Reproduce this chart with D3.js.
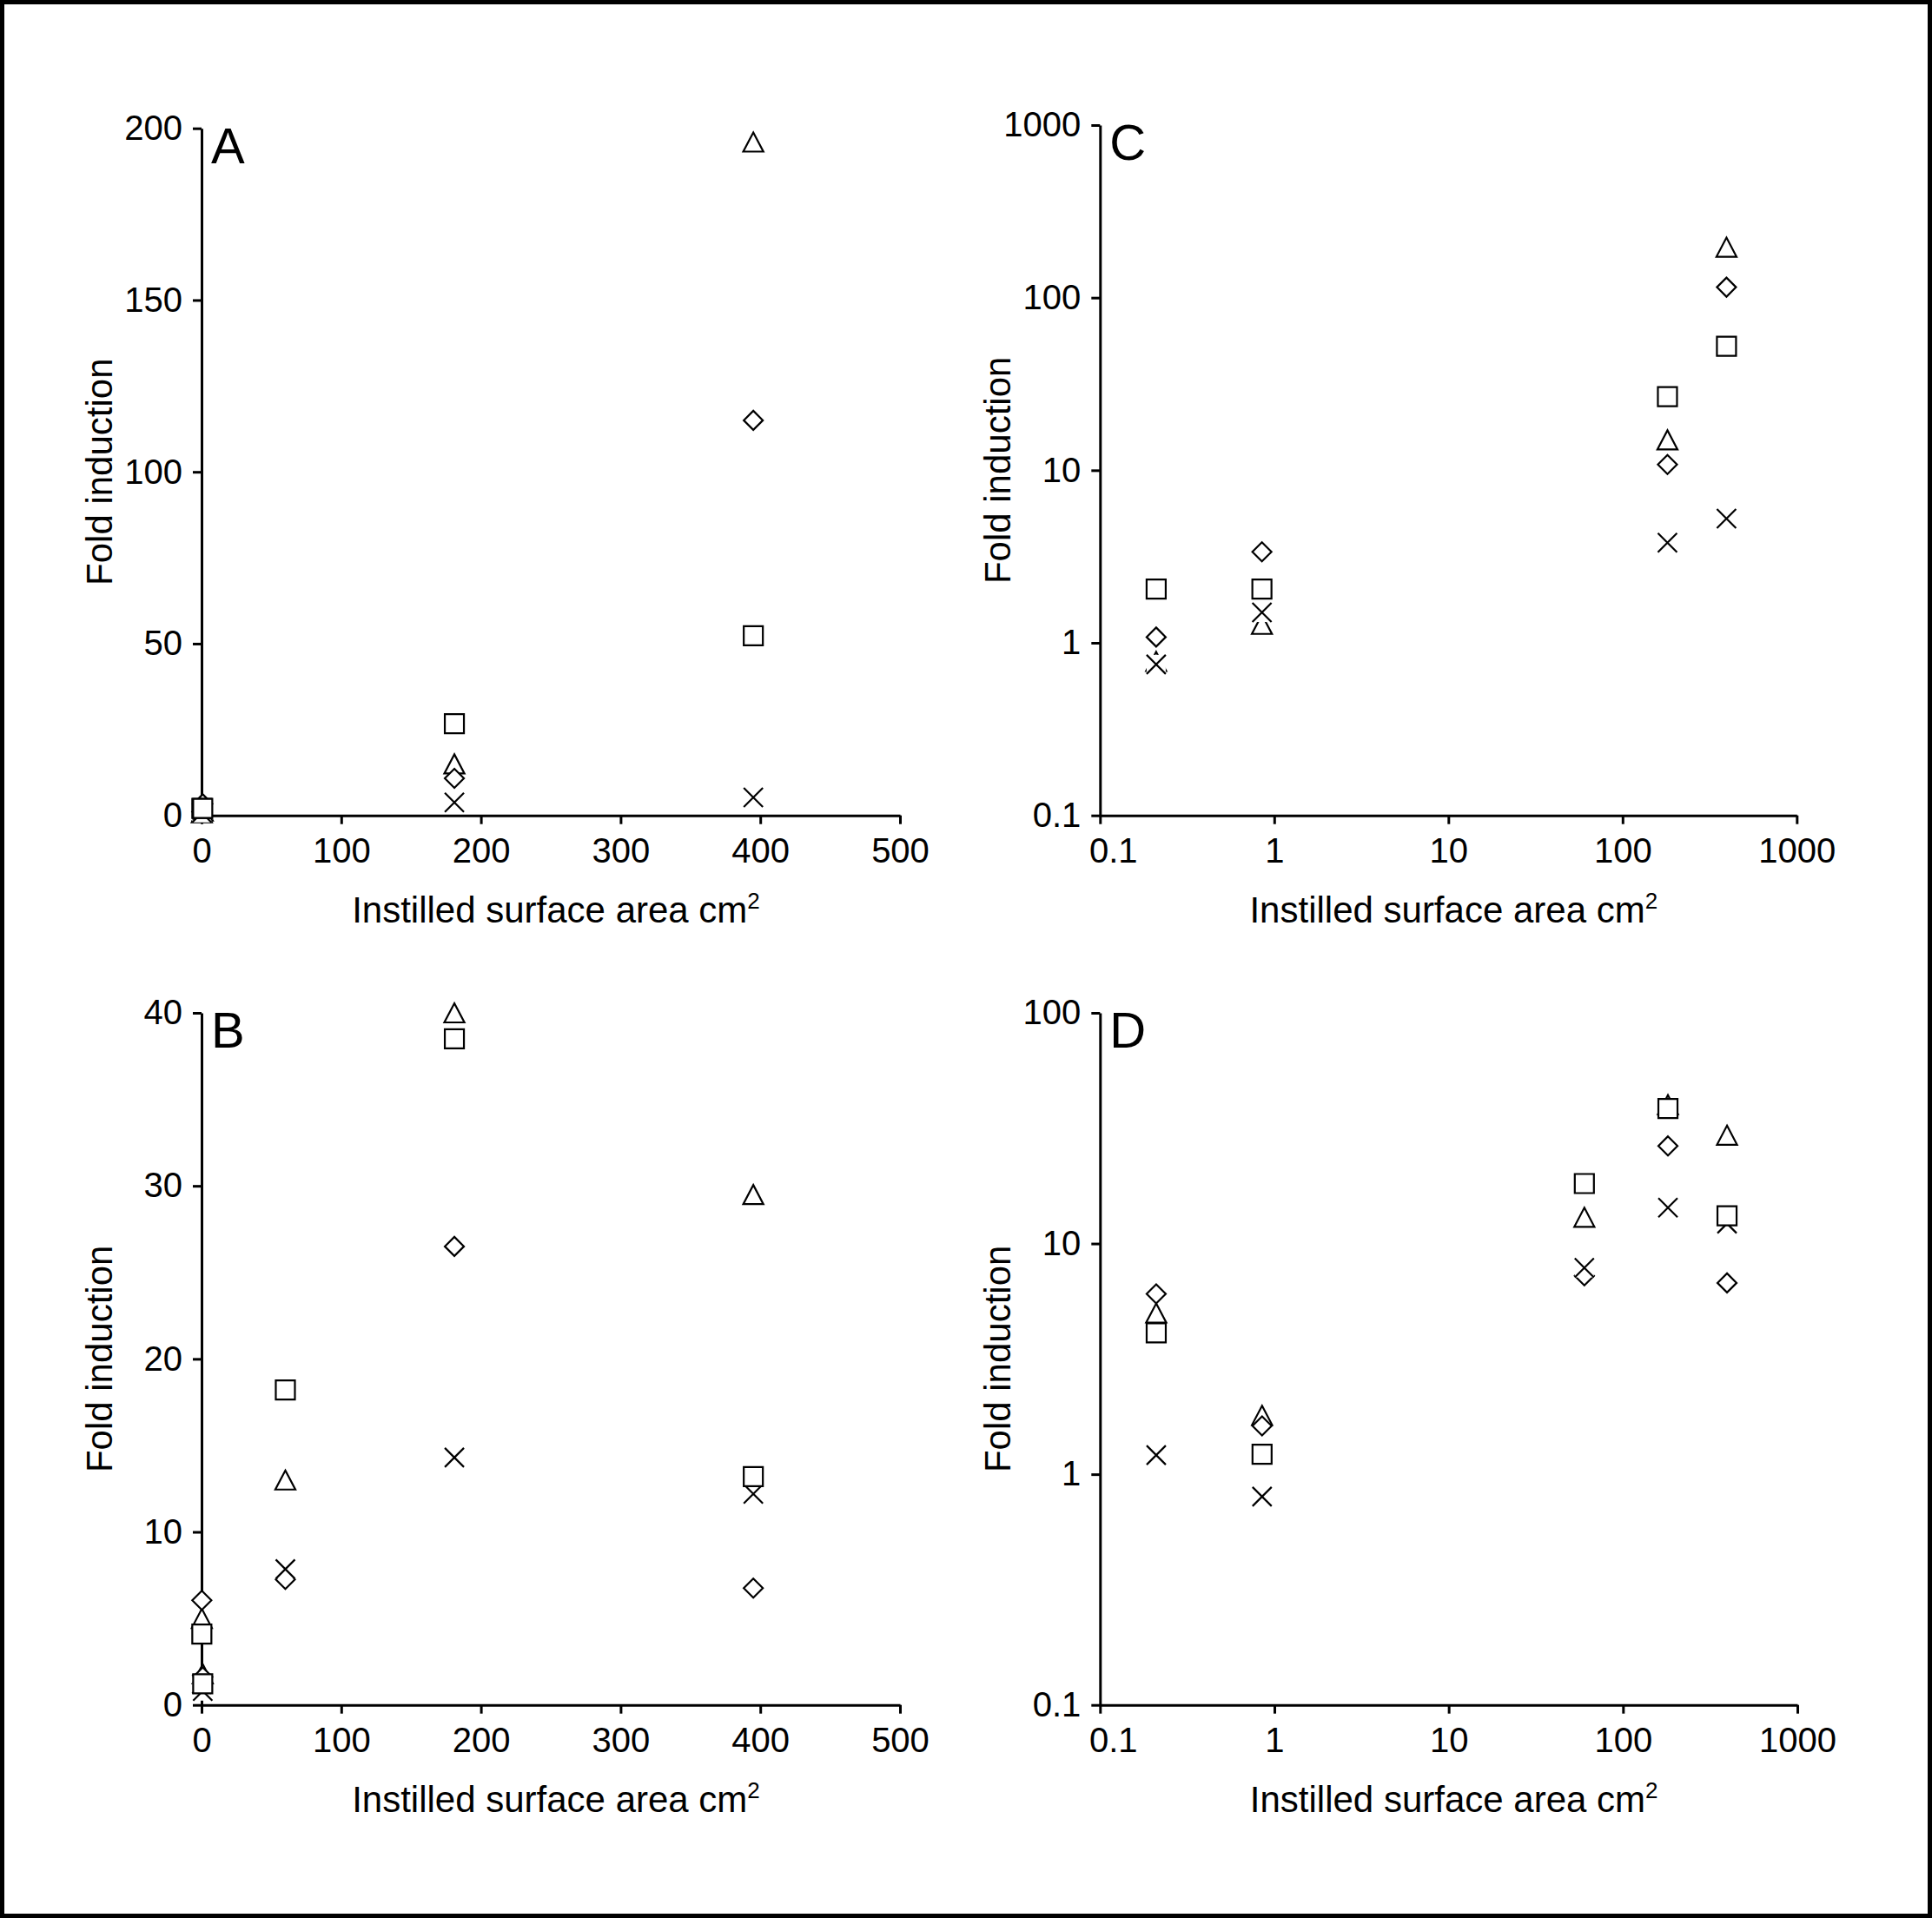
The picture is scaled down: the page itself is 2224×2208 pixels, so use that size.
<!DOCTYPE html>
<html>
<head>
<meta charset="utf-8">
<script src="https://cdn.jsdelivr.net/npm/d3@7"></script>
<style>
  html, body { margin: 0; padding: 0; background: #fff; }
  svg { display: block; }
</style>
</head>
<body>
<svg id="chart" width="2224" height="2208"></svg>
<script>
// ---- Data ----
// Panels A (linear) and C (log): same data set
const area1     = [0.21, 0.85, 181, 395];
const square1   = [2.05, 2.05, 26.7, 52.3];
const triangle1 = [0.78, 1.28, 15.0, 196];
const diamond1  = [1.08, 3.37, 10.8, 115];
const cross1    = [0.75, 1.5, 3.8, 5.25];

// Panels B (linear) and D (log): same data set
const area2     = [0.21, 0.85, 60, 181, 395];
const square2   = [4.1, 1.22, 18.2, 38.5, 13.2];
const triangle2 = [5.0, 1.8, 13.0, 40.0, 29.5];
const diamond2  = [6.05, 1.62, 7.25, 26.5, 6.75];
const cross2    = [1.21, 0.8, 7.85, 14.3, 12.2];

// Tick values
const linXTicks  = [0, 100, 200, 300, 400, 500];
const aYTicks    = [0, 50, 100, 150, 200];
const bYTicks    = [0, 10, 20, 30, 40];
const logXTicks  = [0.1, 1, 10, 100, 1000];
const cYTicks    = [0.1, 1, 10, 100, 1000];
const dYTicks    = [0.1, 1, 10, 100];

const xTitle = "Instilled surface area cm";
const xTitleSup = "2";
const yTitle = "Fold induction";

// ---- Drawing ----
const FONT = "'Liberation Sans', Arial, Helvetica, sans-serif";
const svg = d3.select("#chart");

svg.append("rect")
  .attr("x", 2.5).attr("y", 2.5)
  .attr("width", 2224 - 5).attr("height", 2208 - 5)
  .attr("fill", "#fff").attr("stroke", "#000").attr("stroke-width", 5);

const H = 11;
const symSquare = { draw(ctx, s) { ctx.rect(-s / 2, -s / 2, s, s); } };
const symTriangle = { draw(ctx, s) { const h = s / 2; ctx.moveTo(0, -h); ctx.lineTo(h * 1.05, h); ctx.lineTo(-h * 1.05, h); ctx.closePath(); } };
const symDiamond = { draw(ctx, s) { const h = s / 2; ctx.moveTo(0, -h); ctx.lineTo(h, 0); ctx.lineTo(0, h); ctx.lineTo(-h, 0); ctx.closePath(); } };
const symCross = { draw(ctx, s) { const h = s / 2; ctx.moveTo(-h, -h); ctx.lineTo(h, h); ctx.moveTo(h, -h); ctx.lineTo(-h, h); } };
const symBox = { draw(ctx, s) { ctx.rect(-s / 2, -s / 2, s, s); } };

function drawPanel(p) {
  const g = svg.append("g");
  const x = (p.log ? d3.scaleLog() : d3.scaleLinear()).domain(p.xDomain).range([p.left, p.right]);
  const y = (p.log ? d3.scaleLog() : d3.scaleLinear()).domain(p.yDomain).range([p.bottom, p.top]);
  const fmt = d => String(d);

  const gx = g.append("g").attr("transform", `translate(0,${p.bottom})`)
    .call(d3.axisBottom(x).tickValues(p.xTicks).tickFormat(fmt).tickSize(10).tickSizeOuter(0).tickPadding(16));
  const gy = g.append("g").attr("transform", `translate(${p.left},0)`)
    .call(d3.axisLeft(y).tickValues(p.yTicks).tickFormat(fmt).tickSize(10).tickSizeOuter(0).tickPadding(12));
  [gx, gy].forEach(a => {
    a.attr("font-size", 40).attr("font-family", FONT);
    a.selectAll("path, line").attr("stroke", "#000").attr("stroke-width", 3);
    a.selectAll("text").attr("fill", "#000");
  });
  // first x label on log axes is nudged right to clear the y label
  if (p.log) {
    gx.selectAll(".tick").filter(d => d === p.xTicks[0]).select("text").attr("dx", 15);
  }

  // Panel letter
  g.append("text").attr("x", p.left + 11).attr("y", p.top + 40)
    .attr("font-family", FONT).attr("font-size", 58).text(p.letter);

  // X title with superscript
  const xt = g.append("text")
    .attr("x", (p.left + p.right) / 2 + 6).attr("y", p.bottom + 123)
    .attr("text-anchor", "middle").attr("font-family", FONT).attr("font-size", 42);
  xt.append("tspan").text(xTitle);
  xt.append("tspan").attr("font-size", 26).attr("dy", -16).text(xTitleSup);

  // Y title
  g.append("text")
    .attr("transform", `translate(${p.left - 103},${(p.top + p.bottom) / 2}) rotate(-90)`)
    .attr("text-anchor", "middle").attr("font-family", FONT).attr("font-size", 42)
    .text(yTitle);

  // Markers
  const series = [
    { vals: p.triangle, type: symTriangle, fill: "#fff" },
    { vals: p.diamond,  type: symDiamond,  fill: "#fff" },
    { vals: p.cross,    type: symCross,    fill: "none", bg: true },
    { vals: p.square,   type: symSquare,   fill: "#fff" }
  ];
  series.forEach(s => {
    const pts = s.vals.map((v, i) => [p.area[i], v]);
    const sg = g.append("g");
    if (s.bg) {
      sg.selectAll("path.bg").data(pts).join("path").attr("class", "bg")
        .attr("transform", d => `translate(${x(d[0])},${y(d[1])})`)
        .attr("d", d3.symbol().type(symBox).size(2 * H))
        .attr("fill", "#fff").attr("stroke", "none");
    }
    sg.selectAll("path.mk").data(pts).join("path").attr("class", "mk")
      .attr("transform", d => `translate(${x(d[0])},${y(d[1])})`)
      .attr("d", d3.symbol().type(s.type).size(2 * H))
      .attr("fill", s.fill).attr("stroke", "#000").attr("stroke-width", 2.2);
  });
}

drawPanel({ letter: "A", log: false, left: 232, right: 1036, top: 147.7, bottom: 938.7,
  xDomain: [0, 500], yDomain: [0, 200], xTicks: linXTicks, yTicks: aYTicks,
  area: area1, square: square1, triangle: triangle1, diamond: diamond1, cross: cross1 });

drawPanel({ letter: "B", log: false, left: 232, right: 1036, top: 1166, bottom: 1962.7,
  xDomain: [0, 500], yDomain: [0, 40], xTicks: linXTicks, yTicks: bYTicks,
  area: area2, square: square2, triangle: triangle2, diamond: diamond2, cross: cross2 });

drawPanel({ letter: "C", log: true, left: 1266.3, right: 2068.3, top: 144, bottom: 938.7,
  xDomain: [0.1, 1000], yDomain: [0.1, 1000], xTicks: logXTicks, yTicks: cYTicks,
  area: area1, square: square1, triangle: triangle1, diamond: diamond1, cross: cross1 });

drawPanel({ letter: "D", log: true, left: 1266.3, right: 2069, top: 1166, bottom: 1962.7,
  xDomain: [0.1, 1000], yDomain: [0.1, 100], xTicks: logXTicks, yTicks: dYTicks,
  area: area2, square: square2, triangle: triangle2, diamond: diamond2, cross: cross2 });
</script>
</body>
</html>
